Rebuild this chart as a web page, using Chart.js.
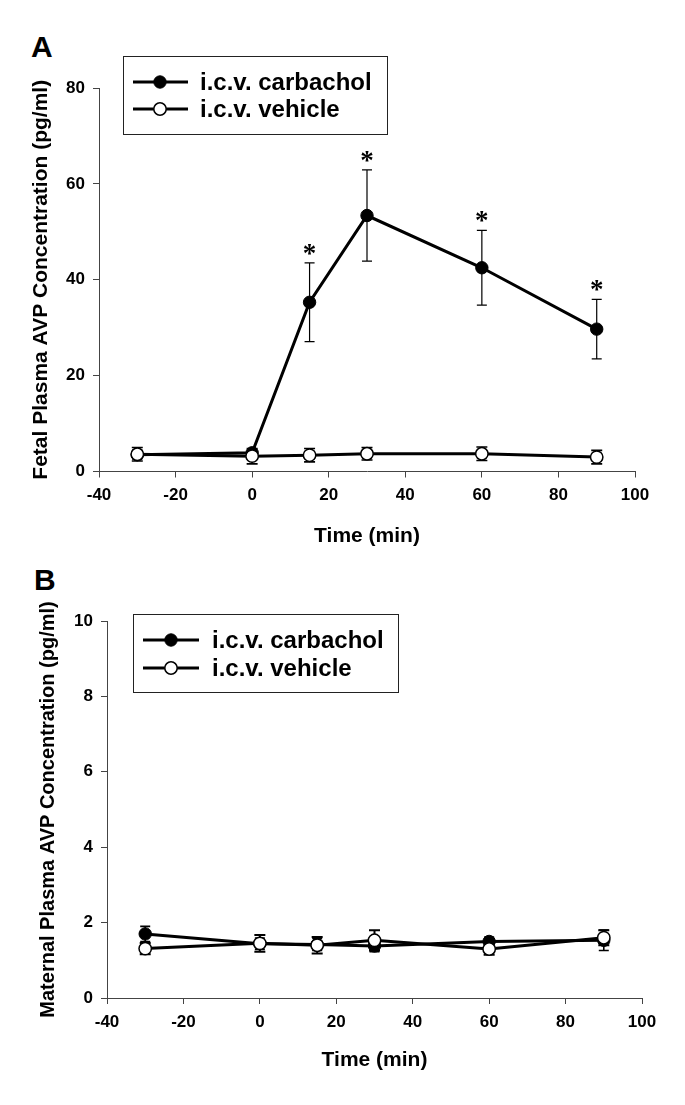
<!DOCTYPE html>
<html><head><meta charset="utf-8">
<script src="https://cdn.jsdelivr.net/npm/chart.js@4.4.1/dist/chart.umd.min.js"></script>
<style>
html,body{margin:0;padding:0;background:#fff;}
body{width:685px;height:1105px;position:relative;overflow:hidden;font-family:'Liberation Sans',Arial,sans-serif;}
canvas{position:absolute;left:0;}
.lbl{position:absolute;font-weight:bold;font-size:30px;line-height:1;color:#000;}
</style></head><body>
<div class="lbl" style="left:31px;top:32px;">A</div>
<div class="lbl" style="left:34px;top:565px;">B</div>
<canvas id="cA" width="685" height="560" style="top:0"></canvas>
<canvas id="cB" width="685" height="545" style="top:560px"></canvas>
<script>
// ---- data ----
const timeMin = [-30, 0, 15, 30, 60, 90];
const seriesNames = ['i.c.v. carbachol', 'i.c.v. vehicle'];
const fetalCarbachol = [3.5, 3.9, 35.3, 53.4, 42.5, 29.7];
const fetalCarbacholSEM = [1.0, 0.8, 8.2, 9.5, 7.8, 6.2];
const fetalVehicle = [3.6, 3.2, 3.4, 3.7, 3.7, 3.0];
const fetalVehicleSEM = [1.4, 1.6, 1.4, 1.3, 1.4, 1.4];
const fetalSignificant = [false, false, true, true, true, true];
const maternalCarbachol = [1.70, 1.44, 1.42, 1.38, 1.50, 1.53];
const maternalCarbacholSEM = [0.20, 0.15, 0.16, 0.15, 0.12, 0.27];
const maternalVehicle = [1.31, 1.45, 1.40, 1.53, 1.30, 1.60];
const maternalVehicleSEM = [0.15, 0.22, 0.22, 0.27, 0.15, 0.20];
const xTicks = [-40, -20, 0, 20, 40, 60, 80, 100];
const fetalYTicks = [0, 20, 40, 60, 80];
const maternalYTicks = [0, 2, 4, 6, 8, 10];
const xTitle = 'Time (min)';
const fetalYTitle = 'Fetal Plasma AVP Concentration (pg/ml)';
const maternalYTitle = 'Maternal Plasma AVP Concentration (pg/ml)';

const FONT = "'Liberation Sans', Arial, Helvetica, sans-serif";
const AXIS = '#444';

const errorBarPlugin = {
  id: 'errorBars',
  beforeDatasetsDraw(chart) {
    const ctx = chart.ctx, xs = chart.scales.x, ys = chart.scales.y;
    const metas = chart.getSortedVisibleDatasetMetas().slice().reverse();
    metas.forEach(meta => {
      const ds = chart.data.datasets[meta.index];
      if (!ds.errors) return;
      ctx.save();
      ctx.strokeStyle = '#000';
      ctx.lineWidth = ds.errorWidth;
      ds.data.forEach((pt, j) => {
        const e = ds.errors[j];
        const x = xs.getPixelForValue(pt.x);
        const yT = ys.getPixelForValue(pt.y + e), yB = ys.getPixelForValue(pt.y - e);
        const c = ds.capHalf;
        ctx.beginPath();
        ctx.moveTo(x, yT); ctx.lineTo(x, yB);
        ctx.moveTo(x - c, yT); ctx.lineTo(x + c, yT);
        ctx.moveTo(x - c, yB); ctx.lineTo(x + c, yB);
        ctx.stroke();
      });
      ctx.restore();
    });
  },
  afterDatasetsDraw(chart) {
    const ctx = chart.ctx, xs = chart.scales.x, ys = chart.scales.y;
    chart.data.datasets.forEach(ds => {
      if (!ds.sig) return;
      ctx.save();
      ctx.fillStyle = '#000';
      ctx.font = "bold 27px 'Liberation Serif', 'Times New Roman', serif";
      ctx.textAlign = 'center';
      ctx.textBaseline = 'alphabetic';
      ds.data.forEach((pt, j) => {
        if (!ds.sig[j]) return;
        const x = xs.getPixelForValue(pt.x);
        const yT = ys.getPixelForValue(pt.y + ds.errors[j]);
        ctx.fillText('*', x, yT - 1);
      });
      ctx.restore();
    });
  }
};

const boxLegendPlugin = {
  id: 'boxLegend',
  afterDraw(chart, args, o) {
    if (!o || !o.box) return;
    const ctx = chart.ctx;
    ctx.save();
    ctx.strokeStyle = '#222';
    ctx.lineWidth = 1;
    ctx.strokeRect(o.box[0] + 0.5, o.box[1] + 0.5, o.box[2], o.box[3]);
    chart.data.datasets.forEach((ds, i) => {
      const y = o.rows[i];
      ctx.strokeStyle = ds.borderColor;
      ctx.lineWidth = ds.borderWidth;
      ctx.beginPath(); ctx.moveTo(o.lineX[0], y); ctx.lineTo(o.lineX[1], y); ctx.stroke();
      ctx.beginPath(); ctx.arc(o.markerX, y, ds.pointRadius, 0, Math.PI * 2);
      ctx.fillStyle = ds.pointBackgroundColor; ctx.fill();
      ctx.lineWidth = ds.pointBorderWidth; ctx.strokeStyle = ds.pointBorderColor; ctx.stroke();
      ctx.fillStyle = '#000';
      ctx.font = 'bold 24px ' + FONT;
      ctx.textAlign = 'left'; ctx.textBaseline = 'middle';
      ctx.fillText(ds.label, o.textX, y + 1);
    });
    ctx.restore();
  }
};

function makeDatasets(carb, carbErr, veh, vehErr, sig, errW) {
  return [
    { label: seriesNames[0], data: timeMin.map((t, i) => ({ x: t, y: carb[i] })),
      errors: carbErr, sig: sig, errorWidth: errW, capHalf: 5,
      borderColor: '#000', borderWidth: 3, pointRadius: 6.2, pointHoverRadius: 6.2,
      pointBackgroundColor: '#000', pointBorderColor: '#000', pointBorderWidth: 1,
      tension: 0, order: 2 },
    { label: seriesNames[1], data: timeMin.map((t, i) => ({ x: t, y: veh[i] })),
      errors: vehErr, errorWidth: errW + 0.4, capHalf: 5.5,
      borderColor: '#000', borderWidth: 3, pointRadius: 6.2, pointHoverRadius: 6.2,
      pointBackgroundColor: '#fff', pointBorderColor: '#000', pointBorderWidth: 1.5,
      tension: 0, order: 1 }
  ];
}

function makeScales(yMax, yTickArr, yTitle, yTitleSize, yW, yTitlePad, xH, xTitlePad) {
  return {
    x: {
      type: 'linear', min: -40, max: 100,
      afterBuildTicks: s => { s.ticks = xTicks.map(v => ({ value: v })); },
      afterFit: s => { s.height = xH; },
      grid: { drawOnChartArea: false, drawTicks: true, tickLength: 6, color: AXIS, lineWidth: 1 },
      border: { display: true, color: AXIS, width: 1 },
      ticks: { color: '#000', font: { family: FONT, size: 17, weight: 'bold' }, padding: 8, maxRotation: 0, autoSkip: false },
      title: { display: true, text: xTitle, color: '#000', font: { family: FONT, size: 21, weight: 'bold' }, padding: { top: 0, bottom: xTitlePad } }
    },
    y: {
      type: 'linear', min: 0, max: yMax,
      afterBuildTicks: s => { s.ticks = yTickArr.map(v => ({ value: v })); },
      afterFit: s => { s.width = yW; },
      grid: { drawOnChartArea: false, drawTicks: true, tickLength: 6, color: AXIS, lineWidth: 1 },
      border: { display: true, color: AXIS, width: 1 },
      ticks: { color: '#000', font: { family: FONT, size: 17, weight: 'bold' }, padding: 8, autoSkip: false },
      title: { display: true, text: yTitle, color: '#000', font: { family: FONT, size: yTitleSize, weight: 'bold' }, padding: { top: yTitlePad, bottom: 0 } }
    }
  };
}

function makeChart(id, datasets, scales, padding, legendOpts) {
  return new Chart(document.getElementById(id), {
    type: 'line',
    data: { datasets },
    options: {
      responsive: false, animation: false, devicePixelRatio: 1,
      layout: { padding },
      plugins: { legend: { display: false }, tooltip: { enabled: false }, boxLegend: legendOpts },
      scales
    },
    plugins: [errorBarPlugin, boxLegendPlugin]
  });
}

makeChart('cA',
  makeDatasets(fetalCarbachol, fetalCarbacholSEM, fetalVehicle, fetalVehicleSEM, fetalSignificant, 1.2),
  makeScales(80, fetalYTicks, fetalYTitle, 21, 99, 28.5, 80, 3),
  { left: 0, top: 88, right: 50, bottom: 8.5 },
  { box: [123, 56, 264, 78], rows: [82, 109], lineX: [133, 188], markerX: 160, textX: 200 });

makeChart('cB',
  makeDatasets(maternalCarbachol, maternalCarbacholSEM, maternalVehicle, maternalVehicleSEM, null, 1.6),
  makeScales(10, maternalYTicks, maternalYTitle, 20, 107, 36, 80, 5.5),
  { left: 0, top: 61, right: 43, bottom: 27 },
  { box: [133, 54, 265, 78], rows: [80, 108], lineX: [143, 199], markerX: 171, textX: 212 });
</script>
</body></html>
